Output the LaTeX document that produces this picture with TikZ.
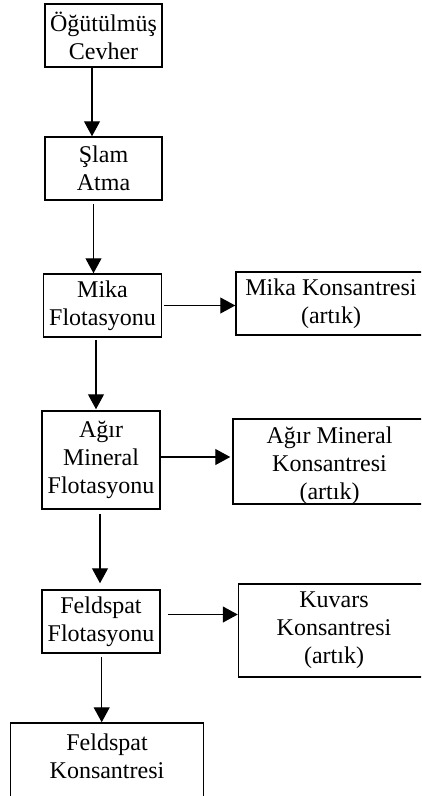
\documentclass[tikz,border=0pt]{standalone}
\usepackage{fontspec}
\setmainfont{Liberation Serif}
\usetikzlibrary{arrows.meta}
\begin{document}
\begin{tikzpicture}[x=1pt, y=1pt,
    box/.style={draw, line width=1.5pt, align=center, inner sep=1pt, minimum width=118pt, minimum height=63pt, font=\fontsize{24}{28}\selectfont},
    arr/.style={line width=1.2pt, -{Triangle[width=16pt, length=15pt]}}]
\useasboundingbox (0,0) rectangle (421,-796);
\clip (0,0) rectangle (421,-796);

\node[box, minimum width=117pt] (ore) at (103.5,-35.5) {Öğütülmüş\\Cevher};
\node[box, minimum width=117pt, below of=ore, node distance=133pt] (slime) {Şlam\\Atma};
\node[box, below of=slime, node distance=137pt, xshift=-1pt] (mica) {Mika\\Flotasyonu};
\node[box, minimum height=98pt, below of=mica, node distance=154.5pt, xshift=-1.5pt] (heavy) {Ağır\\Mineral\\Flotasyonu};
\node[box, below of=heavy, node distance=161.5pt] (feld) {Feldspat\\Flotasyonu};
\node[box, minimum width=193pt, minimum height=0pt, text height=54pt, text depth=22pt, below of=feld, node distance=140.5pt, xshift=6pt] (fconc) {Feldspat\\Konsantresi};

\node[box, minimum width=190pt, right of=mica, node distance=228.5pt, yshift=2pt] (micaconc) {Mika Konsantresi\\(artık)};
\node[box, minimum width=193pt, minimum height=0pt, text height=79pt, text depth=4pt, right of=heavy, node distance=228.5pt, yshift=-1.5pt] (heavyconc) {Ağır Mineral\\Konsantresi\\(artık)};
\node[box, minimum width=191pt, minimum height=93pt, right of=feld, node distance=233pt, yshift=-9pt] (quartz) {Kuvars\\Konsantresi\\(artık)};

\draw[arr] ([xshift=-11.5pt]ore.south) -- ([xshift=-11.5pt]ore.south |- slime.north);
\draw[arr] ([xshift=-10pt,yshift=-3pt]slime.south) -- ([xshift=-10pt]slime.south |- mica.north);
\draw[arr] ([xshift=-6.5pt,yshift=-2pt]mica.south) -- ([xshift=-6.5pt,yshift=1pt]mica.south |- heavy.north);
\draw[arr] ([xshift=-1pt,yshift=-4pt]heavy.south) -- ([xshift=-1pt,yshift=6pt]heavy.south |- feld.north);
\draw[arr] ([xshift=0.7pt,yshift=-3pt]feld.south) -- ([xshift=0.7pt]feld.south |- fconc.north);

\draw[arr] ([xshift=1.5pt]mica.east) -- (mica.east -| micaconc.west);
\draw[arr] ([yshift=3pt]heavy.east) -- ([xshift=-2pt,yshift=3pt]heavy.east -| heavyconc.west);
\draw[arr] ([xshift=7pt,yshift=7pt]feld.east) -- ([yshift=7pt]feld.east -| quartz.west);
\end{tikzpicture}
\end{document}
